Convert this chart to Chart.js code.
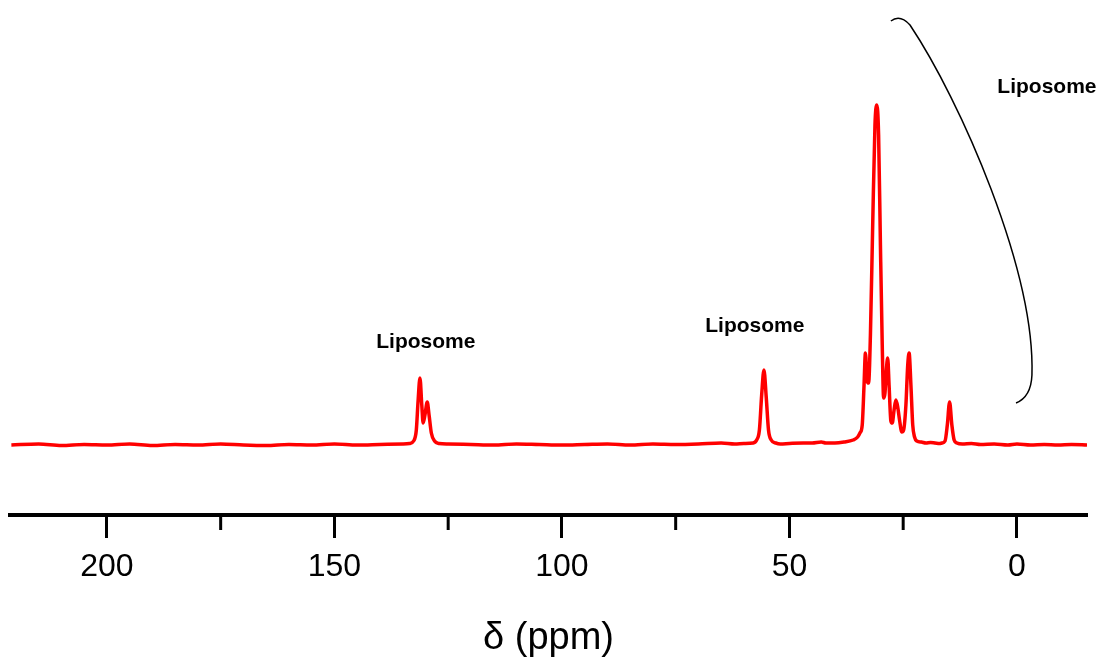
<!DOCTYPE html>
<html>
<head>
<meta charset="utf-8">
<script src="https://cdn.jsdelivr.net/npm/chart.js@4.4.1/dist/chart.umd.min.js"></script>
<style>
  body { margin: 0; background: #fff; }
  #wrap { width: 1101px; height: 661px; position: relative; }
</style>
</head>
<body>
<div id="wrap"><canvas id="nmrChart"></canvas></div>
<script>
// chemical shift (ppm) and intensity
const shifts = [
  221, 215, 210, 205, 200, 195, 190, 185, 180, 175, 170, 165, 160, 155, 150, 145, 140, 135,
  133.5, 132.6, 132.0, 131.6, 131.2, 130.8, 130.5, 130.1, 129.6, 129.2, 128.7, 128, 127, 125,
  120, 115, 110, 105, 100, 95, 90, 85, 80, 75, 70, 65, 62, 60, 58, 57.2, 56.6, 56.1, 55.6, 55.1,
  54.6, 54.0, 53, 52, 50, 47, 45, 43, 42, 40, 38, 36, 35, 34.5, 34, 33.6, 33.3, 32.9, 32.6,
  32.2, 31.7, 31.2, 30.8, 30.4, 30.0, 29.6, 29.3, 29.0, 28.7, 28.4, 28.1, 27.7, 27.4, 27.0,
  26.6, 26.2, 25.8, 25.3, 24.9, 24.4, 24.0, 23.7, 23.3, 22.9, 22.5, 22, 21, 20, 19, 18, 17,
  16.5, 15.8, 15.3, 14.8, 14.3, 13.8, 13.2, 12, 10, 8, 5, 2, 0, -3, -6, -9, -12, -15.4
];
const intensity = [
  0, 1, -0.5, 0.5, 0, 1, -0.5, 0.5, 0, 1, 0, -0.5, 0.5, 0, 1, 0, 0.5, 1,
  1.5, 4, 15, 45, 67, 40, 22, 30, 43, 30, 12, 4, 1.5, 1,
  0.5, 0, 1, 0.5, 0, 0.5, 1, 0, 1, 0.5, 1, 2, 1, 1.5, 2, 5, 15, 50, 75, 48,
  15, 5, 2, 1, 1.5, 2, 2, 3, 2, 2, 3, 5, 8, 12, 20, 60, 92, 64, 62,
  110, 220, 320, 340, 310, 200, 100, 47, 52, 75, 87, 60, 24, 22, 35,
  45, 38, 25, 13, 15, 40, 80, 92, 60, 20, 8, 4, 3, 2, 2.5, 2, 1.5,
  2, 4, 20, 43, 20, 5, 2, 1, 1.5, 0.5, 1, 0, 1, 0, 0.5, 0, 0.5, 0
];
const majorTicks = [200, 150, 100, 50, 0];
const minorTicks = [175, 125, 75, 25];
const peakLabels = ["Liposome", "Liposome", "Liposome"];

const points = shifts.map((s, i) => ({ x: s, y: intensity[i] }));

const extras = {
  id: "extras",
  afterDraw(chart) {
    const { ctx, scales } = chart;
    const xs = scales.x, ys = scales.y;
    const P = (ppm, v) => [xs.getPixelForValue(ppm), ys.getPixelForValue(v)];
    ctx.save();

    // minor ticks
    ctx.strokeStyle = "#000";
    ctx.lineWidth = 3;
    minorTicks.forEach(v => {
      const px = xs.getPixelForValue(v);
      ctx.beginPath();
      ctx.moveTo(px, xs.top);
      ctx.lineTo(px, xs.top + 15);
      ctx.stroke();
    });

    // labels
    ctx.fillStyle = "#000";
    ctx.font = "bold 21px 'Liberation Sans', Arial, sans-serif";
    ctx.textAlign = "center";
    ctx.textBaseline = "middle";
    const spots = [[129.9, 103], [57.6, 119], [-6.6, 358]];
    spots.forEach((s, i) => {
      const [px, py] = P(s[0], s[1]);
      ctx.fillText(peakLabels[i], px, py);
    });

    // bracket curve
    ctx.lineWidth = 1.5;
    ctx.beginPath();
    let p = P(27.7, 424); ctx.moveTo(p[0], p[1]);
    let c = P(25.7, 431); p = P(23.5, 420);
    ctx.quadraticCurveTo(c[0], c[1], p[0], p[1]);
    const c1 = P(12.5, 345), c2 = P(-4.0, 175); p = P(-3.3, 70);
    ctx.bezierCurveTo(c1[0], c1[1], c2[0], c2[1], p[0], p[1]);
    c = P(-3.1, 48); p = P(0.2, 42);
    ctx.quadraticCurveTo(c[0], c[1], p[0], p[1]);
    ctx.stroke();
    ctx.restore();
  }
};

new Chart(document.getElementById("nmrChart"), {
  type: "line",
  data: {
    datasets: [
      {
        data: points,
        borderColor: "#ff0000",
        borderWidth: 3.5,
        pointRadius: 0,
        cubicInterpolationMode: "monotone",
        fill: false
      }
    ]
  },
  options: {
    responsive: true,
    maintainAspectRatio: false,
    animation: false,
    layout: {
      padding: { left: 10, right: 14, top: 0, bottom: 0 }
    },
    plugins: {
      legend: { display: false },
      tooltip: { enabled: false }
    },
    scales: {
      x: {
        type: "linear",
        reverse: true,
        min: -15.4,
        max: 221.3,
        afterBuildTicks(scale) {
          scale.ticks = majorTicks.map(v => ({ value: v }));
        },
        ticks: {
          color: "#000",
          padding: 10,
          maxRotation: 0,
          font: { family: "'Liberation Sans', Arial, sans-serif", size: 32 }
        },
        grid: {
          display: true,
          drawOnChartArea: false,
          tickLength: 23,
          tickWidth: 3,
          tickColor: "#000"
        },
        border: { display: true, color: "#000", width: 4 },
        title: {
          display: true,
          text: "δ (ppm)",
          color: "#000",
          padding: { top: 19, bottom: 0 },
          font: { family: "'Liberation Sans', Arial, sans-serif", size: 38 }
        }
      },
      y: {
        display: false,
        min: -70,
        max: 445
      }
    }
  },
  plugins: [extras]
});
</script>
</body>
</html>
